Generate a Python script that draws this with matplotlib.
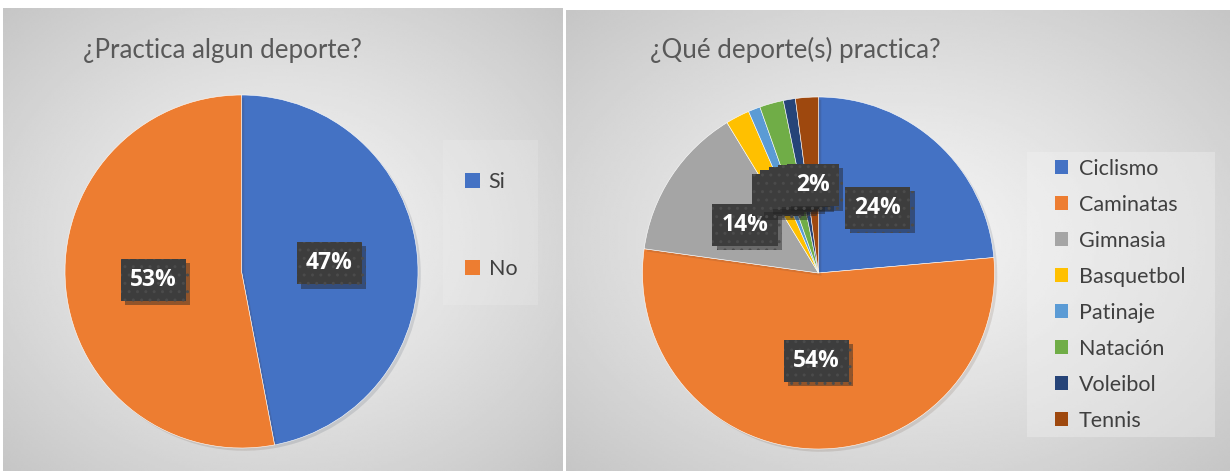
import numpy as np
import matplotlib
matplotlib.use("Agg")
import matplotlib.pyplot as plt
import matplotlib.patheffects as pe
from matplotlib.patches import Rectangle

# datos
labels_izq = ["Si", "No"]
valores_izq = [47, 53]
colores_izq = ["#4472C4", "#ED7D31"]

labels_der = ["Ciclismo", "Caminatas", "Gimnasia", "Basquetbol",
              "Patinaje", "Natación", "Voleibol", "Tennis"]
valores_der = [23.6, 53.6, 14.1, 2.2, 1.1, 2.2, 1.1, 2.1]
colores_der = ["#4472C4", "#ED7D31", "#A5A5A5", "#FFC000",
               "#5B9BD5", "#70AD47", "#264478", "#9E480E"]

W, H = 1230, 471
fig = plt.figure(figsize=(W / 100, H / 100), dpi=100)
fig.patch.set_facecolor("white")


def px(x0, y0, x1, y1):
    # pixeles (desde arriba) -> fracciones de figura
    return [x0 / W, 1 - y1 / H, (x1 - x0) / W, (y1 - y0) / H]


def fondo(x0, y0, x1, y1):
    ax = fig.add_axes(px(x0, y0, x1, y1), zorder=0)
    yy, xx = np.mgrid[-1:1:200j, -1:1:300j]
    d = np.sqrt(xx ** 2 + yy ** 2) / np.sqrt(2)
    img = 0.96 - (0.96 - 0.775) * d ** 1.2
    ax.imshow(img, cmap="gray", vmin=0, vmax=1, aspect="auto",
              extent=[0, 1, 0, 1], interpolation="bilinear")
    ax.axis("off")


fondo(3, 8, 563, 471)
fondo(566, 10, 1230, 471)


def etiqueta_caja(t):
    t.set_bbox(dict(boxstyle="square,pad=0.4", facecolor="#3d3d3d",
                    edgecolor="#4b4b4b", linewidth=0, hatch=".."))
    t.get_bbox_patch().set_path_effects([
        pe.SimplePatchShadow(offset=(3, -3), shadow_rgbFace="#222222", alpha=0.45),
        pe.Normal()])


def torta(cx, cy, r, valores, colores):
    ax = fig.add_axes(px(cx - r, cy - r, cx + r, cy + r), zorder=2)
    wedges, _, autotexts = ax.pie(
        valores, colors=colores, startangle=90, counterclock=False,
        autopct=lambda p: "%d%%" % round(p), pctdistance=0.5,
        radius=1, wedgeprops=dict(linewidth=0.4, edgecolor="white"),
        textprops=dict(color="white", fontsize=16.5, fontweight="bold",
                       family=["Open Sans", "DejaVu Sans"]))
    for w in wedges:
        w.set_path_effects([pe.SimplePatchShadow(offset=(2, -2), alpha=0.12), pe.Normal()])
    for t in autotexts:
        etiqueta_caja(t)
    ax.set_xlim(-1, 1)
    ax.set_ylim(-1, 1)
    ax.set_aspect("equal")
    ax.axis("off")
    return ax, wedges


ax1, w1 = torta(241.5, 271.5, 176.5, valores_izq, colores_izq)
ax2, w2 = torta(818.5, 273, 176, valores_der, colores_der)

# titulos
fig.text(83 / W, 1 - 58 / H, "¿Practica algun deporte?", fontsize=18.6,
         color="#595959", family=["Lato", "DejaVu Sans"], va="baseline")
fig.text(650 / W, 1 - 58 / H, "¿Qué deporte(s) practica?", fontsize=18.6,
         color="#595959", family=["Lato", "DejaVu Sans"], va="baseline")

# fondo claro de las leyendas
fig.add_artist(Rectangle((443 / W, 1 - 305 / H), 95 / W, 165 / H,
                         transform=fig.transFigure, facecolor="#f4f4f4",
                         edgecolor="none", alpha=0.2, zorder=1))
fig.add_artist(Rectangle((1027 / W, 1 - 437 / H), 188 / W, 285 / H,
                         transform=fig.transFigure, facecolor="#f4f4f4",
                         edgecolor="none", alpha=0.35, zorder=1))

prop = dict(family=["Lato", "DejaVu Sans"], size=15.5)
leg1 = fig.legend(w1, labels_izq, loc="upper left",
                  bbox_to_anchor=(465 / W, 1 - 172 / H), frameon=False,
                  prop=prop, handlelength=0.7, handleheight=0.7,
                  handletextpad=0.4, labelspacing=3.1, borderpad=0,
                  borderaxespad=0, labelcolor="#404040")
leg2 = fig.legend(w2, labels_der, loc="upper left",
                  bbox_to_anchor=(1055 / W, 1 - 159 / H), frameon=False,
                  prop=prop, handlelength=0.62, handleheight=0.62,
                  handletextpad=0.5, labelspacing=0.74, borderpad=0,
                  borderaxespad=0, labelcolor="#404040")
for lg in (leg1, leg2):
    for h in lg.legend_handles:
        h.set_path_effects([])
        h.set_edgecolor("none")

fig.savefig("out.png", dpi=100)
